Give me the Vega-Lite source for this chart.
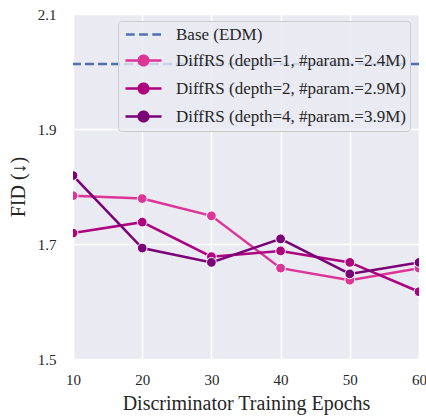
{
  "$schema": "https://vega.github.io/schema/vega-lite/v6.json",
  "width": 346,
  "height": 345,
  "autosize": {"type": "none"},
  "padding": {"left": 73, "top": 14, "right": 7, "bottom": 59},
  "background": "white",
  "config": {
    "font": "Liberation Serif",
    "view": {"fill": "#eaeaf2", "stroke": null},
    "axis": {
      "domain": false,
      "ticks": false,
      "grid": true,
      "gridColor": "white",
      "gridWidth": 1.5,
      "labelFont": "Liberation Serif",
      "labelFontSize": 15,
      "labelFontWeight": "normal",
      "labelColor": "#262626",
      "titleFont": "Liberation Serif",
      "titleFontSize": 20,
      "titleFontWeight": "normal",
      "titleColor": "#262626"
    },
    "legend": {
      "labelFont": "Liberation Serif",
      "labelFontSize": 17,
      "labelLimit": 0
    }
  },
  "datasets": {
    "diffrs": [
      {"series": "DiffRS (depth=1, #param.=2.4M)", "epoch": 10, "fid": 1.784},
      {"series": "DiffRS (depth=1, #param.=2.4M)", "epoch": 20, "fid": 1.779},
      {"series": "DiffRS (depth=1, #param.=2.4M)", "epoch": 30, "fid": 1.749},
      {"series": "DiffRS (depth=1, #param.=2.4M)", "epoch": 40, "fid": 1.658},
      {"series": "DiffRS (depth=1, #param.=2.4M)", "epoch": 50, "fid": 1.637},
      {"series": "DiffRS (depth=1, #param.=2.4M)", "epoch": 60, "fid": 1.658},
      {"series": "DiffRS (depth=2, #param.=2.9M)", "epoch": 10, "fid": 1.719},
      {"series": "DiffRS (depth=2, #param.=2.9M)", "epoch": 20, "fid": 1.738},
      {"series": "DiffRS (depth=2, #param.=2.9M)", "epoch": 30, "fid": 1.678},
      {"series": "DiffRS (depth=2, #param.=2.9M)", "epoch": 40, "fid": 1.688},
      {"series": "DiffRS (depth=2, #param.=2.9M)", "epoch": 50, "fid": 1.668},
      {"series": "DiffRS (depth=2, #param.=2.9M)", "epoch": 60, "fid": 1.617},
      {"series": "DiffRS (depth=4, #param.=3.9M)", "epoch": 10, "fid": 1.819},
      {"series": "DiffRS (depth=4, #param.=3.9M)", "epoch": 20, "fid": 1.693},
      {"series": "DiffRS (depth=4, #param.=3.9M)", "epoch": 30, "fid": 1.668},
      {"series": "DiffRS (depth=4, #param.=3.9M)", "epoch": 40, "fid": 1.709},
      {"series": "DiffRS (depth=4, #param.=3.9M)", "epoch": 50, "fid": 1.648},
      {"series": "DiffRS (depth=4, #param.=3.9M)", "epoch": 60, "fid": 1.668}
    ],
    "base": [{"series": "Base (EDM)", "fid": 2.013}]
  },
  "encoding": {
    "color": {
      "field": "series",
      "type": "nominal",
      "scale": {
        "domain": ["Base (EDM)", "DiffRS (depth=1, #param.=2.4M)", "DiffRS (depth=2, #param.=2.9M)", "DiffRS (depth=4, #param.=3.9M)"],
        "range": ["#4c72b0", "#dd3497", "#ae017e", "#7a0177"]
      },
      "legend": {
        "title": null,
        "orient": "none",
        "legendX": 45,
        "legendY": 7,
        "fillColor": "rgba(234,234,242,0.8)",
        "strokeColor": "#cccccc",
        "cornerRadius": 3,
        "padding": 4,
        "labelFont": "Liberation Serif",
        "labelFontSize": 17,
        "labelLimit": 0,
        "labelColor": "#262626",
        "symbolSize": 256,
        "symbolOffset": 12,
        "labelOffset": 23,
        "rowPadding": 7,
        "symbolStrokeWidth": 2.5,
        "encode": {
          "symbols": {
            "update": {
              "shape": {"signal": "datum.value === 'Base (EDM)' ? 'M-2.2,0L-1.1,0M-0.55,0L0.55,0M1.1,0L2.2,0' : 'M-2.25,0L-0.6,0M0.6,0L2.25,0M-0.6,0A0.6,0.6,0,1,1,0.6,0A0.6,0.6,0,1,1,-0.6,0Z'"},
              "fill": {"signal": "scale('color', datum.value)"},
              "stroke": {"signal": "scale('color', datum.value)"},
              "strokeWidth": {"value": 2.5},
              "strokeDash": {"value": [1, 0]},
              "opacity": {"value": 1},
              "fillOpacity": {"value": 1}
            }
          }
        }
      }
    }
  },
  "layer": [
    {
      "data": {"name": "base"},
      "mark": {"type": "rule", "strokeWidth": 2.5, "strokeDash": [9, 4], "clip": true},
      "encoding": {
        "y": {"field": "fid", "type": "quantitative", "scale": {"domain": [1.5, 2.1], "nice": false, "zero": false}}
      }
    },
    {
      "data": {"name": "diffrs"},
      "mark": {"type": "line", "strokeWidth": 2.5, "clip": true},
      "encoding": {
        "x": {"field": "epoch", "type": "quantitative", "scale": {"domain": [10, 60], "nice": false, "zero": false},
              "axis": {"values": [10, 20, 30, 40, 50, 60], "title": "Discriminator Training Epochs", "labelFlush": false, "labelPadding": 13, "titlePadding": 6}},
        "y": {"field": "fid", "type": "quantitative", "scale": {"domain": [1.5, 2.1], "nice": false, "zero": false},
              "axis": {"values": [1.5, 1.7, 1.9, 2.1], "format": ".1f", "title": "FID (↓)", "labelPadding": 17, "titlePadding": 9}}
      }
    },
    {
      "data": {"name": "diffrs"},
      "mark": {"type": "point", "filled": true, "size": 95, "stroke": "white", "strokeWidth": 1, "opacity": 1, "clip": true},
      "encoding": {
        "x": {"field": "epoch", "type": "quantitative"},
        "y": {"field": "fid", "type": "quantitative"}
      }
    }
  ]
}
